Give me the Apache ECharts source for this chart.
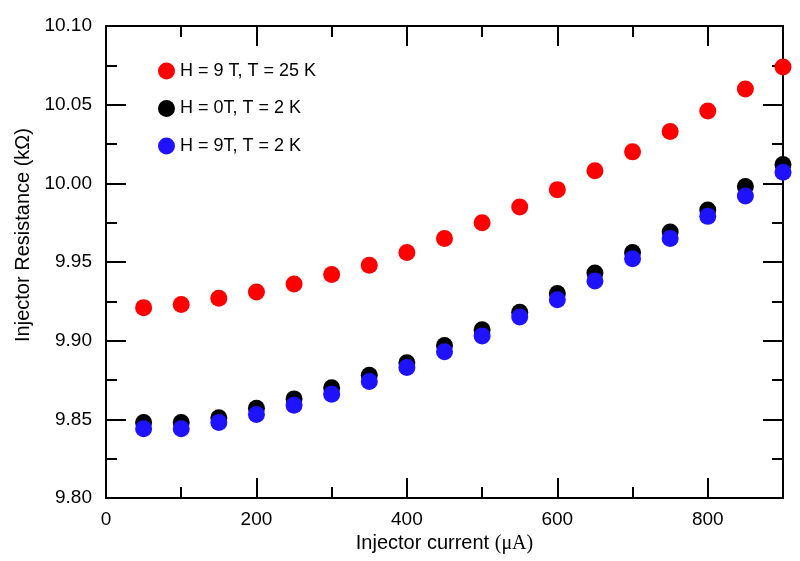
<!DOCTYPE html>
<html>
<head>
<meta charset="utf-8">
<script src="https://cdn.jsdelivr.net/npm/echarts@6/dist/echarts.min.js"></script>
<style>html,body{margin:0;padding:0;background:#fff}#c{width:800px;height:561px}</style>
</head>
<body>
<div id="c"></div>
<script>
const currents = [50,100,150,200,250,300,350,400,450,500,550,600,650,700,750,800,850,900];
const redSeries = [9.921,9.923,9.927,9.931,9.936,9.942,9.948,9.956,9.965,9.975,9.985,9.996,10.008,10.020,10.033,10.046,10.060,10.074];
const blackSeries = [9.848,9.848,9.851,9.857,9.863,9.870,9.878,9.886,9.897,9.907,9.918,9.930,9.943,9.956,9.969,9.983,9.998,10.012];
const blueSeries = [9.844,9.844,9.848,9.853,9.859,9.866,9.874,9.883,9.893,9.903,9.915,9.926,9.938,9.952,9.965,9.979,9.992,10.007];
const seriesNames = ['H = 9 T, T = 25 K','H = 0T, T = 2 K','H = 9T, T = 2 K'];
const xTickLabels = ['0','200','400','600','800'];
const yTickLabels = ['9.80','9.85','9.90','9.95','10.00','10.05','10.10'];

const font = 'Liberation Sans, Arial, sans-serif';
const lineStyle = {color:'#000', width:2};
function pair(a){ return a.map((v,i)=>[currents[i], v]); }

const chart = echarts.init(document.getElementById('c'), null, {renderer:'canvas'});
const baseX = {type:'value', min:0, max:900, axisLine:{show:true, onZero:false, lineStyle}, splitLine:{show:false}};
chart.setOption({
  animation:false,
  backgroundColor:'#fff',
  grid:{left:106, right:17, top:26, bottom:63, containLabel:false},
  legend:{
    orient:'vertical', left:153, top:57, itemWidth:17, itemHeight:17, itemGap:19.5,
    icon:'circle', data:seriesNames,
    textStyle:{fontFamily:font, fontSize:18, color:'#000', lineHeight:17}
  },
  xAxis:[
    Object.assign({}, baseX, {position:'bottom', interval:200,
      axisTick:{show:true, inside:true, length:20, lineStyle},
      axisLabel:{show:true, margin:12, fontFamily:font, fontSize:19, color:'#000', showMaxLabel:false,
        formatter:function(v){ const s = String(v); return xTickLabels.indexOf(s) >= 0 ? s : ''; }},
      name:'{a|Injector current }{b|(μA)}', nameLocation:'middle', nameGap:32,
      nameTextStyle:{rich:{a:{fontFamily:font, fontSize:20, color:'#000'}, b:{fontFamily:'Liberation Serif, Times New Roman, serif', fontSize:20, color:'#000'}}}
    }),
    Object.assign({}, baseX, {position:'bottom', interval:100,
      axisTick:{show:true, inside:true, length:11, lineStyle}, axisLabel:{show:false}}),
    Object.assign({}, baseX, {position:'top', interval:200,
      axisTick:{show:true, inside:true, length:20, lineStyle}, axisLabel:{show:false}}),
    Object.assign({}, baseX, {position:'top', interval:100,
      axisTick:{show:true, inside:true, length:11, lineStyle}, axisLabel:{show:false}})
  ],
  yAxis:[
    {type:'value', position:'left', min:9.80, max:10.10, interval:0.05,
      axisLine:{show:true, onZero:false, lineStyle},
      axisTick:{show:true, inside:true, length:20, lineStyle},
      minorTick:{show:true, splitNumber:2, length:11, lineStyle},
      splitLine:{show:false}, minorSplitLine:{show:false},
      axisLabel:{margin:14, fontFamily:font, fontSize:19, color:'#000',
        formatter:function(v){ const s = v.toFixed(2); return yTickLabels.indexOf(s) >= 0 ? s : ''; }}
    },
    {type:'value', position:'right', min:9.80, max:10.10, interval:0.05,
      axisLine:{show:true, onZero:false, lineStyle},
      axisTick:{show:true, inside:true, length:20, lineStyle},
      minorTick:{show:true, splitNumber:2, length:11, lineStyle},
      splitLine:{show:false}, axisLabel:{show:false}
    }
  ],
  graphic:[{
    type:'text', x:23, y:235, rotation:Math.PI/2,
    style:{text:'Injector Resistance (kΩ)', fontFamily:font, fontSize:20, fill:'#000', textAlign:'center', textVerticalAlign:'middle'}
  }],
  series:[
    {name:seriesNames[0], type:'scatter', data:pair(redSeries), symbolSize:17, clip:true, itemStyle:{color:'#ff0000', opacity:1}, z:3},
    {name:seriesNames[1], type:'scatter', data:pair(blackSeries), symbolSize:17, clip:true, itemStyle:{color:'#000000', opacity:1}, z:3},
    {name:seriesNames[2], type:'scatter', data:pair(blueSeries), symbolSize:17, clip:true, itemStyle:{color:'#1f12ff', opacity:1}, z:4}
  ]
});
</script>
</body>
</html>
